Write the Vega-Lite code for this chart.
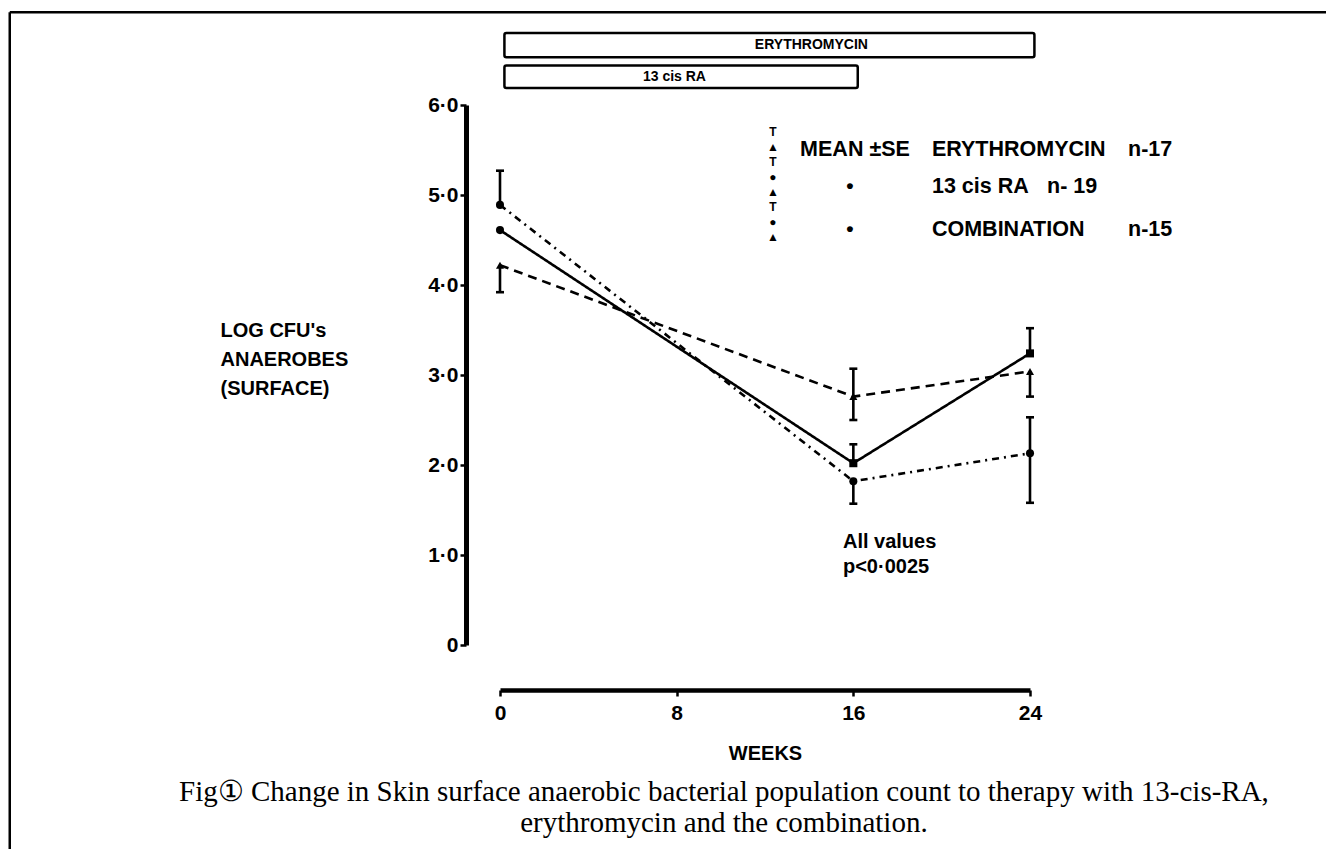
{
  "$schema": "https://vega.github.io/schema/vega-lite/v6.json",
  "width": 530,
  "height": 540,
  "autosize": "none",
  "padding": {"left": 500, "top": 105, "right": 296, "bottom": 204},
  "background": "white",
  "config": {"view": {"stroke": null}, "font": "Liberation Sans", "axis": {"grid": false}},
  "datasets": {
    "series": [
      {"series": "ERYTHROMYCIN", "week": 0, "value": 4.22},
      {"series": "ERYTHROMYCIN", "week": 16, "value": 2.76},
      {"series": "ERYTHROMYCIN", "week": 24, "value": 3.04},
      {"series": "13 cis RA", "week": 0, "value": 4.61},
      {"series": "13 cis RA", "week": 16, "value": 2.02},
      {"series": "13 cis RA", "week": 24, "value": 3.24},
      {"series": "COMBINATION", "week": 0, "value": 4.89},
      {"series": "COMBINATION", "week": 16, "value": 1.82},
      {"series": "COMBINATION", "week": 24, "value": 2.13}
    ],
    "errbars": [
      {"series": "COMBINATION", "week": 0, "mean": 4.89, "end": 5.27},
      {"series": "ERYTHROMYCIN", "week": 0, "mean": 4.22, "end": 3.92},
      {"series": "ERYTHROMYCIN", "week": 16, "mean": 2.76, "end": 3.07},
      {"series": "ERYTHROMYCIN", "week": 16, "mean": 2.76, "end": 2.5},
      {"series": "13 cis RA", "week": 16, "mean": 2.02, "end": 2.23},
      {"series": "COMBINATION", "week": 16, "mean": 1.82, "end": 1.57},
      {"series": "13 cis RA", "week": 24, "mean": 3.24, "end": 3.52},
      {"series": "ERYTHROMYCIN", "week": 24, "mean": 3.04, "end": 2.76},
      {"series": "COMBINATION", "week": 24, "mean": 2.13, "end": 2.53},
      {"series": "COMBINATION", "week": 24, "mean": 2.13, "end": 1.58}
    ],
    "therapy": [
      {"therapy": "ERYTHROMYCIN", "start": 0.2, "end": 24.2},
      {"therapy": "13 cis RA", "start": 0.2, "end": 16.2}
    ],
    "one": [{}]
  },
  "layer": [
    {
      "data": {"name": "series"},
      "mark": {"type": "line", "color": "black", "strokeWidth": 2.6},
      "encoding": {
        "x": {
          "field": "week", "type": "quantitative",
          "scale": {"domain": [0, 24], "nice": false, "zero": false},
          "axis": {
            "title": "WEEKS", "titleFontSize": 20, "titleFontWeight": "bold", "titleColor": "black", "titlePadding": 20,
            "offset": 45, "values": [0, 8, 16, 24], "labelFontSize": 21, "labelFontWeight": "bold", "labelColor": "black",
            "labelPadding": 6, "labelFlush": false, "tickSize": 6, "tickWidth": 2.5, "tickColor": "black",
            "domainWidth": 4.5, "domainColor": "black"
          }
        },
        "y": {
          "field": "value", "type": "quantitative",
          "scale": {"domain": [0, 6], "nice": false},
          "axis": {
            "title": ["LOG CFU's", "ANAEROBES", "(SURFACE)"], "titleAngle": 0, "titleAlign": "left", "titleBaseline": "alphabetic",
            "titleX": -246, "titleY": 231, "titleFontSize": 20, "titleFontWeight": "bold", "titleLineHeight": 29, "titleColor": "black",
            "offset": 34, "values": [0, 1, 2, 3, 4, 5, 6], "format": ".1f",
            "labelExpr": "datum.value == 0 ? '0' : replace(datum.label, '.', '·')",
            "labelFontSize": 21, "labelFontWeight": "bold", "labelColor": "black", "labelPadding": 2,
            "tickSize": 6, "tickWidth": 2.5, "tickColor": "black", "domainWidth": 5, "domainColor": "black"
          }
        },
        "strokeDash": {
          "field": "series", "type": "nominal", "legend": null,
          "scale": {"domain": ["ERYTHROMYCIN", "13 cis RA", "COMBINATION"], "range": [[9, 6], [1, 0], [7, 5, 2, 5]]}
        }
      }
    },
    {
      "data": {"name": "errbars"},
      "mark": {"type": "rule", "color": "black", "strokeWidth": 2.6},
      "encoding": {
        "x": {"field": "week", "type": "quantitative"},
        "y": {"field": "mean", "type": "quantitative"},
        "y2": {"field": "end"}
      }
    },
    {
      "data": {"name": "errbars"},
      "mark": {"type": "tick", "orient": "horizontal", "color": "black", "size": 8, "thickness": 2.6, "opacity": 1},
      "encoding": {
        "x": {"field": "week", "type": "quantitative"},
        "y": {"field": "end", "type": "quantitative"}
      }
    },
    {
      "data": {"name": "series"},
      "mark": {"type": "point", "filled": true, "color": "black", "opacity": 1, "size": 65},
      "encoding": {
        "x": {"field": "week", "type": "quantitative"},
        "y": {"field": "value", "type": "quantitative"},
        "shape": {
          "condition": [
            {"test": "datum.series === 'ERYTHROMYCIN'", "value": "triangle-up"},
            {"test": "datum.series === '13 cis RA' && datum.week > 0", "value": "square"}
          ],
          "value": "circle"
        }
      }
    },
    {
      "data": {"name": "therapy"},
      "transform": [{"filter": "datum.therapy === 'ERYTHROMYCIN'"}],
      "mark": {"type": "rect", "fill": "white", "stroke": "black", "strokeWidth": 2.5, "cornerRadius": 2},
      "encoding": {
        "x": {"field": "start", "type": "quantitative"},
        "x2": {"field": "end"},
        "y": {"datum": 6.53, "type": "quantitative"},
        "y2": {"datum": 6.8}
      }
    },
    {
      "data": {"name": "therapy"},
      "transform": [{"filter": "datum.therapy === '13 cis RA'"}],
      "mark": {"type": "rect", "fill": "white", "stroke": "black", "strokeWidth": 2.5, "cornerRadius": 2},
      "encoding": {
        "x": {"field": "start", "type": "quantitative"},
        "x2": {"field": "end"},
        "y": {"datum": 6.19, "type": "quantitative"},
        "y2": {"datum": 6.44}
      }
    },
    {
      "data": {"name": "therapy"},
      "transform": [{"filter": "datum.therapy === 'ERYTHROMYCIN'"}],
      "mark": {"type": "text", "fontSize": 14, "fontWeight": "bold", "color": "black", "align": "center", "baseline": "middle"},
      "encoding": {
        "x": {"datum": 14.1, "type": "quantitative"},
        "y": {"datum": 6.665, "type": "quantitative"},
        "text": {"field": "therapy"}
      }
    },
    {
      "data": {"name": "therapy"},
      "transform": [{"filter": "datum.therapy === '13 cis RA'"}],
      "mark": {"type": "text", "fontSize": 14, "fontWeight": "bold", "color": "black", "align": "center", "baseline": "middle"},
      "encoding": {
        "x": {"datum": 7.9, "type": "quantitative"},
        "y": {"datum": 6.315, "type": "quantitative"},
        "text": {"field": "therapy"}
      }
    },
    {
      "data": {"name": "one"},
      "mark": {"type": "rule", "color": "black", "strokeWidth": 2.5},
      "encoding": {
        "x": {"datum": -22.2, "type": "quantitative"},
        "x2": {"datum": 37.5},
        "y": {"datum": 7.03, "type": "quantitative"}
      }
    },
    {
      "data": {"name": "one"},
      "mark": {"type": "rule", "color": "black", "strokeWidth": 2.5},
      "encoding": {
        "x": {"datum": -22.2, "type": "quantitative"},
        "y": {"datum": 7.03, "type": "quantitative"},
        "y2": {"datum": -2.3}
      }
    },
    {
      "data": {"name": "one"},
      "mark": {"type": "text", "text": ["T", "▲", "T", "●", "▲", "T", "●", "▲"], "fontSize": 12, "lineHeight": 15, "fontWeight": "bold", "color": "black", "align": "center", "baseline": "middle"},
      "encoding": {"x": {"datum": 12.36, "type": "quantitative"}, "y": {"datum": 5.7, "type": "quantitative"}}
    },
    {
      "data": {"name": "one"},
      "mark": {"type": "text", "text": "MEAN ±SE", "fontSize": 21.5, "fontWeight": "bold", "color": "black", "align": "left", "baseline": "middle"},
      "encoding": {"x": {"datum": 13.59, "type": "quantitative"}, "y": {"datum": 5.5, "type": "quantitative"}}
    },
    {
      "data": {"name": "one"},
      "mark": {"type": "text", "text": "ERYTHROMYCIN", "fontSize": 21.5, "fontWeight": "bold", "color": "black", "align": "left", "baseline": "middle"},
      "encoding": {"x": {"datum": 19.56, "type": "quantitative"}, "y": {"datum": 5.5, "type": "quantitative"}}
    },
    {
      "data": {"name": "one"},
      "mark": {"type": "text", "text": "n-17", "fontSize": 21.5, "fontWeight": "bold", "color": "black", "align": "left", "baseline": "middle"},
      "encoding": {"x": {"datum": 28.44, "type": "quantitative"}, "y": {"datum": 5.5, "type": "quantitative"}}
    },
    {
      "data": {"name": "one"},
      "mark": {"type": "text", "text": "•", "fontSize": 21, "fontWeight": "bold", "color": "black", "align": "center", "baseline": "middle"},
      "encoding": {"x": {"datum": 15.85, "type": "quantitative"}, "y": {"datum": 5.09, "type": "quantitative"}}
    },
    {
      "data": {"name": "one"},
      "mark": {"type": "text", "text": "13 cis  RA", "fontSize": 21.5, "fontWeight": "bold", "color": "black", "align": "left", "baseline": "middle"},
      "encoding": {"x": {"datum": 19.56, "type": "quantitative"}, "y": {"datum": 5.09, "type": "quantitative"}}
    },
    {
      "data": {"name": "one"},
      "mark": {"type": "text", "text": "n- 19", "fontSize": 21.5, "fontWeight": "bold", "color": "black", "align": "left", "baseline": "middle"},
      "encoding": {"x": {"datum": 24.77, "type": "quantitative"}, "y": {"datum": 5.09, "type": "quantitative"}}
    },
    {
      "data": {"name": "one"},
      "mark": {"type": "text", "text": "•", "fontSize": 21, "fontWeight": "bold", "color": "black", "align": "center", "baseline": "middle"},
      "encoding": {"x": {"datum": 15.85, "type": "quantitative"}, "y": {"datum": 4.61, "type": "quantitative"}}
    },
    {
      "data": {"name": "one"},
      "mark": {"type": "text", "text": "COMBINATION", "fontSize": 21.5, "fontWeight": "bold", "color": "black", "align": "left", "baseline": "middle"},
      "encoding": {"x": {"datum": 19.56, "type": "quantitative"}, "y": {"datum": 4.61, "type": "quantitative"}}
    },
    {
      "data": {"name": "one"},
      "mark": {"type": "text", "text": "n-15", "fontSize": 21.5, "fontWeight": "bold", "color": "black", "align": "left", "baseline": "middle"},
      "encoding": {"x": {"datum": 28.44, "type": "quantitative"}, "y": {"datum": 4.61, "type": "quantitative"}}
    },
    {
      "data": {"name": "one"},
      "mark": {"type": "text", "text": ["All values", "p<0·0025"], "fontSize": 20, "lineHeight": 25, "fontWeight": "bold", "color": "black", "align": "left", "baseline": "alphabetic"},
      "encoding": {"x": {"datum": 15.53, "type": "quantitative"}, "y": {"datum": 1.08, "type": "quantitative"}}
    },
    {
      "data": {"name": "one"},
      "mark": {"type": "text", "text": ["Fig① Change in Skin surface anaerobic bacterial population count to therapy with 13-cis-RA,", "erythromycin and the combination."], "font": "Liberation Serif", "fontSize": 29, "lineHeight": 31, "color": "black", "align": "center", "baseline": "alphabetic"},
      "encoding": {"x": {"datum": 10.14, "type": "quantitative"}, "y": {"datum": -1.73, "type": "quantitative"}}
    }
  ]
}
